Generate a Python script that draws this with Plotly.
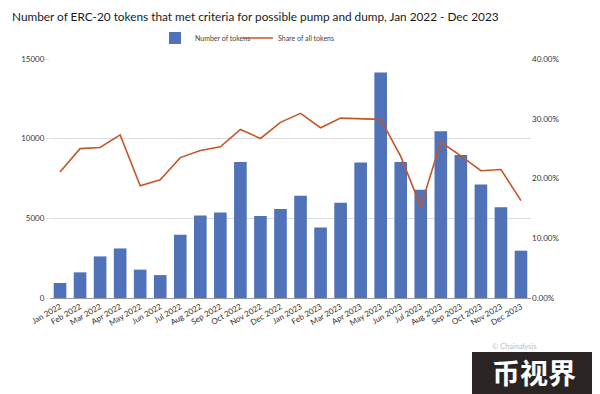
import plotly.graph_objects as go

months = ["Jan 2022", "Feb 2022", "Mar 2022", "Apr 2022", "May 2022", "Jun 2022",
          "Jul 2022", "Aug 2022", "Sep 2022", "Oct 2022", "Nov 2022", "Dec 2022",
          "Jan 2023", "Feb 2023", "Mar 2023", "Apr 2023", "May 2023", "Jun 2023",
          "Jul 2023", "Aug 2023", "Sep 2023", "Oct 2023", "Nov 2023", "Dec 2023"]
num_tokens = [940, 1610, 2610, 3110, 1780, 1440, 3970, 5180, 5370, 8540, 5140, 5580,
              6410, 4430, 5975, 8500, 14160, 8540, 6790, 10470, 8980, 7120, 5700, 2970]
share_pct = [21.1, 25.0, 25.2, 27.3, 18.8, 19.8, 23.5, 24.7, 25.3, 28.2, 26.7, 29.4,
             30.9, 28.5, 30.1, 30.0, 29.9, 23.7, 15.3, 26.1, 23.8, 21.3, 21.5, 16.3]
share = [v / 100 for v in share_pct]

BLUE = "#4f72b8"
ORANGE = "#c4572a"
FONT = "Lato"

# the page body has an 8px margin, so the figure is laid out 8px smaller
W, H = 592, 386
L, R, T, B = 42, 69, 51, 96
PW, PH = W - L - R, H - T - B


def px_x(x):
    return (x - L) / PW


def px_y(y):
    return (H - B - y) / PH


fig = go.Figure()
fig.add_trace(go.Bar(x=months, y=num_tokens, name="Number of tokens",
                     marker=dict(color=BLUE, line=dict(width=0)), yaxis="y",
                     legend="legend"))
fig.add_trace(go.Scatter(x=months, y=share, name="Share of all tokens", mode="lines",
                         line=dict(color=ORANGE, width=1.6), yaxis="y2",
                         legend="legend2"))

leg_common = dict(orientation="h", xanchor="left", xref="container",
                  yanchor="middle", yref="container",
                  font=dict(size=7, color="#444444", family=FONT), itemwidth=30,
                  bgcolor="rgba(0,0,0,0)", borderwidth=0)

fig.update_layout(
    width=W, height=H,
    margin=dict(l=L, r=R, t=T, b=B),
    paper_bgcolor="white", plot_bgcolor="white",
    font=dict(family=FONT, color="#333333", size=8),
    title=dict(text="Number of ERC-20 tokens that met criteria for possible pump and dump, Jan 2022 - Dec 2023",
               x=4 / W, xanchor="left", xref="container",
               y=1 - 9 / H, yanchor="middle", yref="container",
               font=dict(family=FONT, size=11.8, color="#1a1a1a")),
    legend=dict(x=147 / W, y=1 - 30 / H, **leg_common),
    legend2=dict(x=230 / W, y=1 - 30 / H, **leg_common),
    bargap=0.37,
    showlegend=True,
    xaxis=dict(type="category", tickangle=-30, tickfont=dict(size=8, color="#333333"),
               showgrid=False, showline=True, linecolor="#999999", linewidth=1,
               ticks="", automargin=False),
    yaxis=dict(range=[0, 15000], tickvals=[0, 5000, 10000, 15000],
               ticktext=["0", "5000", "10000", "15000"],
               showgrid=True, gridcolor="#dcdcdc", gridwidth=1,
               zeroline=False, tickfont=dict(size=8, color="#333333"),
               ticks="outside", ticklen=3, tickcolor="#dcdcdc", automargin=False),
    yaxis2=dict(range=[0, 0.4], tickvals=[0, 0.1, 0.2, 0.3, 0.4], tickformat=".2%",
                overlaying="y", side="right", showgrid=False, zeroline=False,
                tickfont=dict(size=8, color="#333333"), automargin=False),
)

fig.add_annotation(text="© Chainalysis", xref="paper", yref="paper",
                   x=px_x(506), y=px_y(338), xanchor="center", yanchor="middle",
                   showarrow=False, font=dict(size=7.5, color="#bbbbbb"))
fig.add_shape(type="rect", xref="paper", yref="paper",
              x0=px_x(464), x1=px_x(W), y0=px_y(H), y1=px_y(344),
              fillcolor="#2a2424", line=dict(width=0), layer="above")
fig.add_annotation(text="<b>币视界</b>", xref="paper", yref="paper",
                   x=px_x(526), y=px_y(364), xanchor="center", yanchor="middle",
                   showarrow=False, font=dict(family="Noto Sans CJK SC", size=28, color="white"))

fig.write_html("out.html")
